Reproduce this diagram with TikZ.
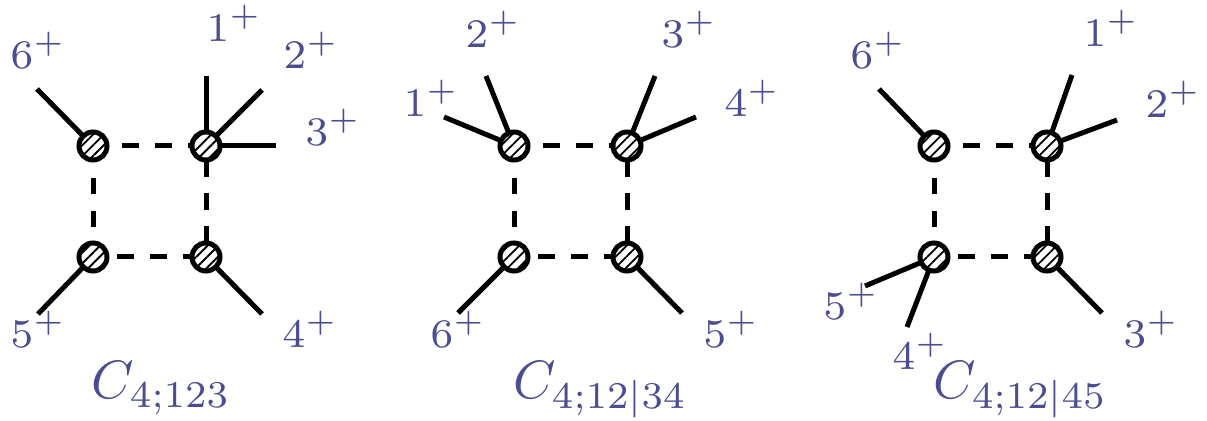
\documentclass[tikz,border=0pt]{standalone}
\usetikzlibrary{backgrounds,patterns.meta}
\definecolor{labcol}{RGB}{76,76,145}
\newcommand{\lbl}[1]{\scalebox{2.9}{\scriptsize$#1$}}
\newcommand{\capl}[1]{\scalebox{2.7}{$#1$}}
\tikzset{
  vtx/.style={circle, draw=black, line width=2.5pt, minimum size=14pt, inner sep=0pt,
    preaction={fill=white}, pattern={Lines[angle=45,distance=3.8pt,line width=0.9pt]}},
  leg/.style={line width=2.5pt},
  prop/.style={line width=2.5pt, dash pattern=on 8.25pt off 8.25pt},
  lab/.style={text=labcol, anchor=base west, inner sep=0pt},
}
\begin{document}
\begin{tikzpicture}[x=0.5pt,y=-0.5pt]
\useasboundingbox (0,0) rectangle (1207,421);
% ---------- diagram 1 ----------
\node[vtx] (A1) at (93,146) {};
\node[vtx] (B1) at (206,146) {};
\node[vtx] (C1) at (93,257) {};
\node[vtx] (D1) at (206,257) {};
\coordinate (A1e6) at (37,89);
\coordinate (B1e1) at (206,76);
\coordinate (B1e2) at (262,90);
\coordinate (B1e3) at (276,146);
\coordinate (C1e5) at (38,314);
\coordinate (D1e4) at (262,314);
% ---------- diagram 2 ----------
\node[vtx] (A2) at (514,146) {};
\node[vtx] (B2) at (627,146) {};
\node[vtx] (C2) at (514,257) {};
\node[vtx] (D2) at (627,257) {};
\coordinate (A2e1) at (444,117);
\coordinate (A2e2) at (486,76);
\coordinate (B2e3) at (655,76);
\coordinate (B2e4) at (696,117);
\coordinate (C2e6) at (458,313);
\coordinate (D2e5) at (682,313);
% ---------- diagram 3 ----------
\node[vtx] (A3) at (934,146) {};
\node[vtx] (B3) at (1047,146) {};
\node[vtx] (C3) at (934,257) {};
\node[vtx] (D3) at (1047,257) {};
\coordinate (A3e6) at (879,89);
\coordinate (B3e1) at (1072,75);
\coordinate (B3e2) at (1117,120);
\coordinate (C3e5) at (865,286);
\coordinate (C3e4) at (907,327);
\coordinate (D3e3) at (1102,313);
\begin{scope}[on background layer]
  \foreach \i in {1,2,3} {
    \draw[prop, dash phase=2pt] (A\i.center) -- (B\i.center);
    \draw[prop, dash phase=4.5pt] (C\i.center) -- (D\i.center);
    \draw[prop, dash phase=0.5pt] (A\i.center) -- (C\i.center);
    \draw[prop, dash phase=9.25pt] (B\i.center) -- (D\i.center);
  }
  \draw[leg] (A1.center) -- (A1e6);
  \draw[leg] (B1.center) -- (B1e1);
  \draw[leg] (B1.center) -- (B1e2);
  \draw[leg] (B1.center) -- (B1e3);
  \draw[leg] (C1.center) -- (C1e5);
  \draw[leg] (D1.center) -- (D1e4);
  \draw[leg] (A2.center) -- (A2e1);
  \draw[leg] (A2.center) -- (A2e2);
  \draw[leg] (B2.center) -- (B2e3);
  \draw[leg] (B2.center) -- (B2e4);
  \draw[leg] (C2.center) -- (C2e6);
  \draw[leg] (D2.center) -- (D2e5);
  \draw[leg] (A3.center) -- (A3e6);
  \draw[leg] (B3.center) -- (B3e1);
  \draw[leg] (B3.center) -- (B3e2);
  \draw[leg] (C3.center) -- (C3e5);
  \draw[leg] (C3.center) -- (C3e4);
  \draw[leg] (D3.center) -- (D3e3);
\end{scope}
% ---------- labels ----------
\node[lab] (l16) at (10,69) {\lbl{6^+}};
\node[lab] (l11) at (206,42) {\lbl{1^+}};
\node[lab] (l12) at (283,69) {\lbl{2^+}};
\node[lab] (l13) at (305,146) {\lbl{3^+}};
\node[lab] (l15) at (10,348) {\lbl{5^+}};
\node[lab] (l14) at (282,348) {\lbl{4^+}};
\node[lab] (c1) at (91,399) {\capl{C_{4;123}}};
\node[lab] (l21) at (403,117) {\lbl{1^+}};
\node[lab] (l22) at (465,48) {\lbl{2^+}};
\node[lab] (l23) at (661,48) {\lbl{3^+}};
\node[lab] (l24) at (724,117) {\lbl{4^+}};
\node[lab] (l26) at (430,348) {\lbl{6^+}};
\node[lab] (l25) at (703,348) {\lbl{5^+}};
\node[lab] (c2) at (513,399) {\capl{C_{4;12|34}}};
\node[lab] (l36) at (850,69) {\lbl{6^+}};
\node[lab] (l31) at (1083,47) {\lbl{1^+}};
\node[lab] (l32) at (1145,118) {\lbl{2^+}};
\node[lab] (l35) at (823,320) {\lbl{5^+}};
\node[lab] (l34) at (892,370) {\lbl{4^+}};
\node[lab] (l33) at (1123,348) {\lbl{3^+}};
\node[lab] (c3) at (933,399) {\capl{C_{4;12|45}}};
\end{tikzpicture}
\end{document}
